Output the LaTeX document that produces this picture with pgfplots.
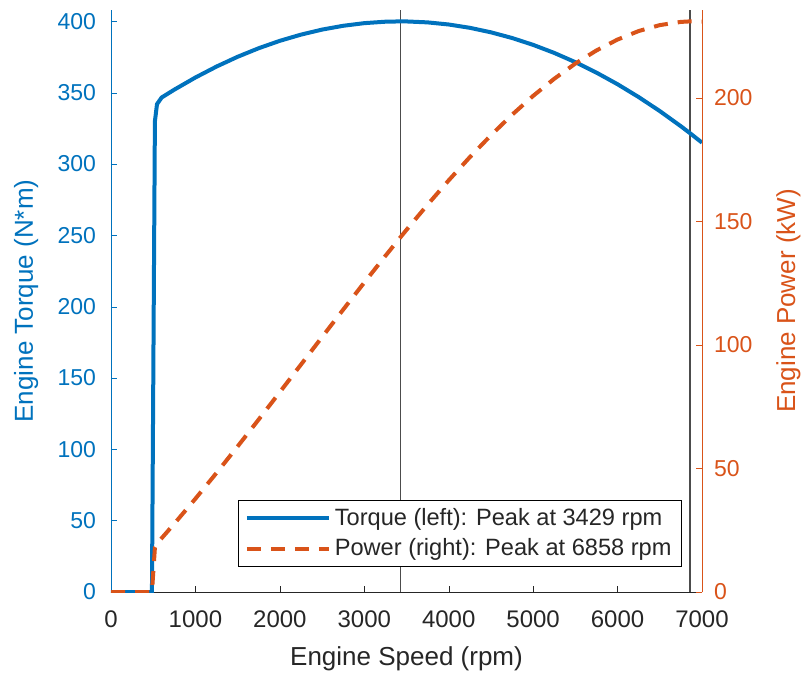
\documentclass[border=0pt]{standalone}
\usepackage{fontspec}
\setmainfont{Liberation Sans}
\usepackage{pgfplots}
\usepackage{pgfplotstable}
\pgfplotsset{compat=1.18}
\usetikzlibrary{calc}
\definecolor{mblue}{rgb}{0,0.447,0.741}
\definecolor{morange}{rgb}{0.85,0.325,0.098}
\definecolor{mgray}{rgb}{0.15,0.15,0.15}
\definecolor{vgray}{rgb}{0.3,0.3,0.3}

\pgfplotstableread{
rpm torque power
0 0 0
485 0 0
520 330 17.97
545 342 19.52
600 346.65 21.78
750 352.16 27.66
1000 360.67 37.77
1250 368.35 48.22
1500 375.20 58.94
1750 381.21 69.86
2000 386.39 80.93
2250 390.73 92.06
2500 394.25 103.21
2750 396.93 114.31
3000 398.77 125.28
3250 399.79 136.06
3429 400.00 143.63
3500 399.97 146.60
3750 399.31 156.81
4000 397.83 166.64
4250 395.51 176.03
4500 392.35 184.89
4750 388.37 193.18
5000 383.55 200.83
5250 377.90 207.76
5500 371.41 213.92
5750 364.09 219.23
6000 355.94 223.64
6250 346.95 227.08
6500 337.14 229.48
6750 326.49 230.78
6858 321.63 230.99
7000 315.00 230.91
}\enginedata

\begin{document}
\begin{tikzpicture}
\pgfplotsset{
  common/.style={
    scale only axis, width=295.5pt, height=291pt,
    xmin=0, xmax=7000,
    tick align=inside, major tick length=3pt,
    /pgf/number format/assume math mode=true,
    /pgf/number format/1000 sep={},
    scaled x ticks=false, scaled y ticks=false,
    xticklabel style={font=\fontsize{12}{14}\selectfont},
    yticklabel style={font=\fontsize{11.5}{14}\selectfont},
    label style={font=\fontsize{13}{15}\selectfont},
    axis line style={-},
  }
}
\begin{axis}[common, name=ax,
  ymin=0, ymax=408,
  axis x line*=bottom, axis y line*=left,
  x axis line style={mgray}, y axis line style={mblue},
  xtick={0,1000,...,7000}, ytick={0,50,...,400},
  xtick style={mgray}, ytick style={mblue},
  xticklabel style={text=mgray, yshift=-6pt},
  yticklabel style={text=mblue, xshift=-4pt},
  xlabel={Engine Speed (rpm)},
  xlabel style={text=mgray, at={(axis description cs:0.5,0)}, anchor=base, yshift=-36.5pt},
  ylabel={Engine Torque (N*m)},
  ylabel style={text=mblue, at={(axis description cs:0,0.5)}, anchor=base, yshift=39pt},
]
\addplot[vgray, line width=0.6pt, forget plot] coordinates {(3429,0) (3429,408)};
\addplot[vgray, line width=0.6pt, forget plot] coordinates {(6858,0) (6858,408)};
\addplot[mblue, line width=2pt] table[x=rpm, y=torque] {\enginedata};
\end{axis}
\begin{axis}[common,
  ymin=0, ymax=235.6,
  axis x line=none, axis y line*=right,
  y axis line style={morange},
  ytick={0,50,...,200}, ytick style={morange},
  yticklabel style={text=morange, xshift=2.5pt},
  ylabel={Engine Power (kW)},
  ylabel style={text=morange, at={(axis description cs:1,0.5)}, anchor=base, yshift=-46.5pt},
  legend style={at={(0.966,0.043)}, anchor=south east, draw=black, fill=white,
    font=\fontsize{11.8}{14}\selectfont, text=mgray, cells={anchor=west}, inner xsep=3pt, inner ysep=2pt,
    row sep=1pt},
  legend image code/.code={\draw[#1] (0pt,0pt) -- (41pt,0pt);},
]
\addlegendimage{mblue, line width=2pt}
\addlegendentry{Torque (left): Peak at 3429 rpm}
\addplot[morange, line width=2pt, dash pattern=on 7pt off 5pt] table[x=rpm, y=power] {\enginedata};
\addlegendentry{Power (right): Peak at 6858 rpm}
\end{axis}
\pgfresetboundingbox
\path ($(ax.south west)+(-55.5pt,-41.5pt)$) rectangle ($(ax.north east)+(52pt,5pt)$);
\end{tikzpicture}
\end{document}
